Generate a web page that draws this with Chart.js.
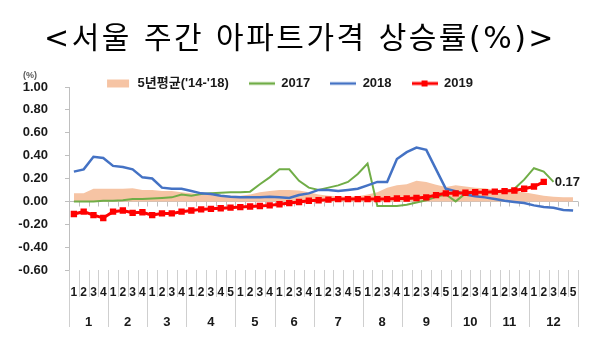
<!DOCTYPE html>
<html lang="ko">
<head>
<meta charset="utf-8">
<title>서울 주간 아파트가격 상승률</title>
<script src="https://cdn.jsdelivr.net/npm/chart.js@4.4.1/dist/chart.umd.min.js"></script>
<style>
  html, body { margin: 0; padding: 0; background: #ffffff; }
  #wrap { width: 600px; height: 346px; }
</style>
</head>
<body>
<div id="wrap"><canvas id="priceChart"></canvas></div>
<script>
// weeks per month and axis labels
const weekCounts = [4, 4, 4, 5, 4, 4, 5, 4, 5, 4, 4, 5];
const monthLabels = ["1", "2", "3", "4", "5", "6", "7", "8", "9", "10", "11", "12"];
const weekLabels = [
  "1", "2", "3", "4", "1", "2", "3", "4", "1", "2", "3", "4",
  "1", "2", "3", "4", "5", "1", "2", "3", "4", "1", "2", "3", "4",
  "1", "2", "3", "4", "5", "1", "2", "3", "4", "1", "2", "3", "4", "5",
  "1", "2", "3", "4", "1", "2", "3", "4", "1", "2", "3", "4", "5",
];

// weekly change (%)
const avg5y = [
  0.07, 0.07, 0.11, 0.11, 0.11, 0.11, 0.115, 0.10, 0.10, 0.09, 0.09, 0.08,
  0.07, 0.06, 0.055, 0.05, 0.05, 0.05, 0.06, 0.08, 0.09, 0.10, 0.10, 0.095, 0.08,
  0.06, 0.05, 0.045, 0.04, 0.045, 0.06, 0.08, 0.12, 0.14, 0.15, 0.18, 0.17, 0.145, 0.125,
  0.14, 0.13, 0.12, 0.115, 0.10, 0.095, 0.09, 0.08, 0.065, 0.05, 0.04, 0.035, 0.035,
];
const y2017 = [
  0.0, 0.0, 0.0, 0.005, 0.005, 0.01, 0.02, 0.02, 0.025, 0.03, 0.035, 0.06,
  0.05, 0.065, 0.07, 0.075, 0.08, 0.08, 0.085, 0.15, 0.21, 0.28, 0.28, 0.18, 0.12,
  0.10, 0.12, 0.14, 0.17, 0.24, 0.33, -0.04, -0.04, -0.04, -0.03, -0.01, 0.01, 0.04, 0.06,
  0.0, 0.07, 0.08, 0.08, 0.08, 0.085, 0.11, 0.19, 0.29, 0.26, 0.17, null, null,
];
const y2018 = [
  0.26, 0.28, 0.39, 0.38, 0.31, 0.30, 0.28, 0.21, 0.20, 0.12, 0.11, 0.11,
  0.09, 0.07, 0.065, 0.05, 0.04, 0.035, 0.035, 0.035, 0.04, 0.035, 0.03, 0.055, 0.07,
  0.10, 0.10, 0.09, 0.10, 0.11, 0.14, 0.17, 0.17, 0.37, 0.43, 0.47, 0.45, 0.28, 0.11,
  0.09, 0.06, 0.045, 0.035, 0.02, 0.005, -0.005, -0.015, -0.035, -0.05, -0.055, -0.075, -0.08,
];
const y2019 = [
  -0.11, -0.09, -0.12, -0.145, -0.09, -0.08, -0.10, -0.095, -0.12, -0.105, -0.105, -0.09,
  -0.08, -0.07, -0.065, -0.06, -0.055, -0.05, -0.045, -0.04, -0.035, -0.025, -0.015, -0.005, 0.005,
  0.01, 0.015, 0.02, 0.02, 0.02, 0.02, 0.02, 0.02, 0.025, 0.025, 0.03, 0.035, 0.055, 0.07,
  0.07, 0.075, 0.08, 0.08, 0.085, 0.09, 0.095, 0.11, 0.13, 0.17, null, null, null,
];

const LATIN = '"Liberation Sans", "Noto Sans CJK KR", sans-serif';
const green = "#70ad47";
const blue = "#4472c4";
const red = "#ff0000";
const peach = "#f6c4a4";
const axisGray = "#bfbfbf";
const sepGray = "#cfcfcf";

// month boundaries and centres on a 0..52 week scale
const monthBounds = [0];
weekCounts.forEach((n) => monthBounds.push(monthBounds[monthBounds.length - 1] + n));
const monthCenters = weekCounts.map((n, i) => monthBounds[i] + n / 2);

function legendIcon(draw) {
  const c = document.createElement("canvas");
  c.width = 26;
  c.height = 12;
  draw(c.getContext("2d"));
  return c;
}

function lineIcon(color, width, withSquare) {
  return legendIcon((g) => {
    g.strokeStyle = color;
    g.lineWidth = width;
    g.beginPath();
    g.moveTo(0, 6);
    g.lineTo(26, 6);
    g.stroke();
    if (withSquare) {
      g.fillStyle = color;
      g.fillRect(10, 3, 6, 6);
    }
  });
}

const legendIcons = [
  legendIcon((g) => {
    g.fillStyle = peach;
    g.fillRect(2, 2, 22, 8);
  }),
  lineIcon(green, 2.5, false),
  lineIcon(blue, 2.5, false),
  lineIcon(red, 3, true),
];

const decorPlugin = {
  id: "decor",
  afterLayout(chart) {
    // legend row sits right on the plot top: let its glyphs spill below the box
    if (chart.legend) chart.legend.bottom += 8;
    const tb = chart.titleBlock;
    if (!tb) return;
    // title is centred on the whole canvas, and drawn a little wider
    tb.right = chart.width;
    if (!tb._spaced) {
      const draw = tb.draw;
      tb.draw = function () {
        this.ctx.save();
        this.ctx.letterSpacing = "2.5px";
        draw.apply(this, arguments);
        this.ctx.restore();
      };
      tb._spaced = true;
    }
  },
  beforeDatasetsDraw(chart) {
    const { ctx, chartArea, scales } = chart;
    const zeroY = Math.round(scales.y.getPixelForValue(0)) + 0.5;
    const wk = scales.month;
    ctx.save();
    ctx.lineWidth = 1;

    // horizontal axis sits on 0 with small tick marks
    ctx.strokeStyle = axisGray;
    ctx.beginPath();
    ctx.moveTo(chartArea.left, zeroY);
    ctx.lineTo(chartArea.right, zeroY);
    for (let b = 0; b <= weekLabels.length; b++) {
      const x = Math.round(wk.getPixelForValue(b)) + 0.5;
      ctx.moveTo(x, zeroY);
      ctx.lineTo(x, zeroY + 5);
    }
    ctx.stroke();

    // week / month separators under the plot
    ctx.strokeStyle = sepGray;
    ctx.beginPath();
    for (let b = 0; b <= weekLabels.length; b++) {
      const x = Math.round(wk.getPixelForValue(b)) + 0.5;
      const len = monthBounds.includes(b) ? 57 : 27;
      ctx.moveTo(x, chartArea.bottom);
      ctx.lineTo(x, chartArea.bottom + len);
    }
    ctx.stroke();
    ctx.restore();
  },
  afterDatasetsDraw(chart) {
    const { ctx, chartArea } = chart;
    ctx.save();

    // unit label
    ctx.font = "bold 9px " + LATIN;
    ctx.fillStyle = "#595959";
    ctx.textAlign = "center";
    ctx.textBaseline = "middle";
    ctx.fillText("(%)", chartArea.left - 39, chartArea.top - 11);

    // latest 2019 value
    let last = y2019.length - 1;
    while (y2019[last] == null) last--;
    const pt = chart.getDatasetMeta(3).data[last];
    ctx.font = "bold 13px " + LATIN;
    ctx.fillStyle = "#1a1a1a";
    ctx.textAlign = "left";
    ctx.fillText(y2019[last].toFixed(2), pt.x + 11, pt.y);
    ctx.restore();
  },
};

new Chart(document.getElementById("priceChart"), {
  type: "line",
  data: {
    labels: weekLabels,
    datasets: [
      {
        label: "5년평균('14-'18)",
        data: avg5y,
        fill: "origin",
        backgroundColor: peach,
        borderWidth: 0,
        pointRadius: 0,
        order: 4,
      },
      {
        label: "2017",
        data: y2017,
        borderColor: green,
        borderWidth: 2,
        pointRadius: 0,
        fill: false,
        order: 3,
      },
      {
        label: "2018",
        data: y2018,
        borderColor: blue,
        borderWidth: 2.5,
        pointRadius: 0,
        fill: false,
        order: 2,
      },
      {
        label: "2019",
        data: y2019,
        borderColor: red,
        backgroundColor: red,
        borderWidth: 3,
        pointStyle: "rect",
        pointRadius: 4.5,
        pointBorderWidth: 0,
        fill: false,
        order: 1,
      },
    ],
  },
  options: {
    responsive: true,
    maintainAspectRatio: false,
    animation: false,
    events: [],
    layout: { padding: { left: 0, right: 22, top: 0, bottom: 16 } },
    plugins: {
      title: {
        display: true,
        text: "<서울 주간 아파트가격 상승률(%)>",
        color: "#000000",
        font: { family: '"DejaVu Sans", "Noto Sans CJK KR", sans-serif', size: 30, weight: "normal", lineHeight: 1.1 },
        padding: { top: 24, bottom: 0 },
      },
      legend: {
        display: true,
        position: "top",
        maxHeight: 30,
        labels: {
          usePointStyle: true,
          pointStyleWidth: 26,
          padding: 20,
          color: "#1a1a1a",
          font: { family: LATIN, size: 13, weight: "bold" },
          generateLabels: (chart) =>
            chart.data.datasets.map((ds, i) => ({
              text: ds.label,
              pointStyle: legendIcons[i],
              fillStyle: "rgba(0,0,0,0)",
              strokeStyle: "rgba(0,0,0,0)",
              lineWidth: 0,
              fontColor: "#1a1a1a",
              hidden: false,
              datasetIndex: i,
            })),
        },
      },
      tooltip: { enabled: false },
    },
    scales: {
      x: {
        type: "category",
        position: "bottom",
        offset: true,
        weight: 0,
        grid: { display: false, drawTicks: false },
        border: { display: false },
        ticks: {
          autoSkip: false,
          maxRotation: 0,
          minRotation: 0,
          padding: 15,
          color: "#1a1a1a",
          font: { family: LATIN, size: 12, weight: "bold" },
        },
        afterFit(scale) {
          scale.height = 30;
        },
      },
      month: {
        type: "linear",
        position: "bottom",
        weight: 1,
        min: 0,
        max: weekLabels.length,
        grid: { display: false, drawTicks: false },
        border: { display: false },
        afterBuildTicks(scale) {
          scale.ticks = monthCenters.map((v) => ({ value: v }));
        },
        ticks: {
          autoSkip: false,
          maxRotation: 0,
          minRotation: 0,
          padding: 15,
          color: "#1a1a1a",
          font: { family: LATIN, size: 13, weight: "bold" },
          callback: (value, index) => monthLabels[index],
        },
        afterFit(scale) {
          scale.height = 30;
        },
      },
      y: {
        min: -0.6,
        max: 1.0,
        ticks: {
          stepSize: 0.2,
          padding: 17,
          color: "#1a1a1a",
          font: { family: LATIN, size: 13, weight: "bold" },
          callback: (value) => (Math.abs(value) < 1e-9 ? 0 : value).toFixed(2),
        },
        grid: { drawOnChartArea: false, drawTicks: true, tickLength: 4, color: axisGray },
        border: { display: true, color: axisGray },
        afterFit(scale) {
          scale.width = 69;
        },
      },
    },
  },
  plugins: [decorPlugin],
});
</script>
</body>
</html>
